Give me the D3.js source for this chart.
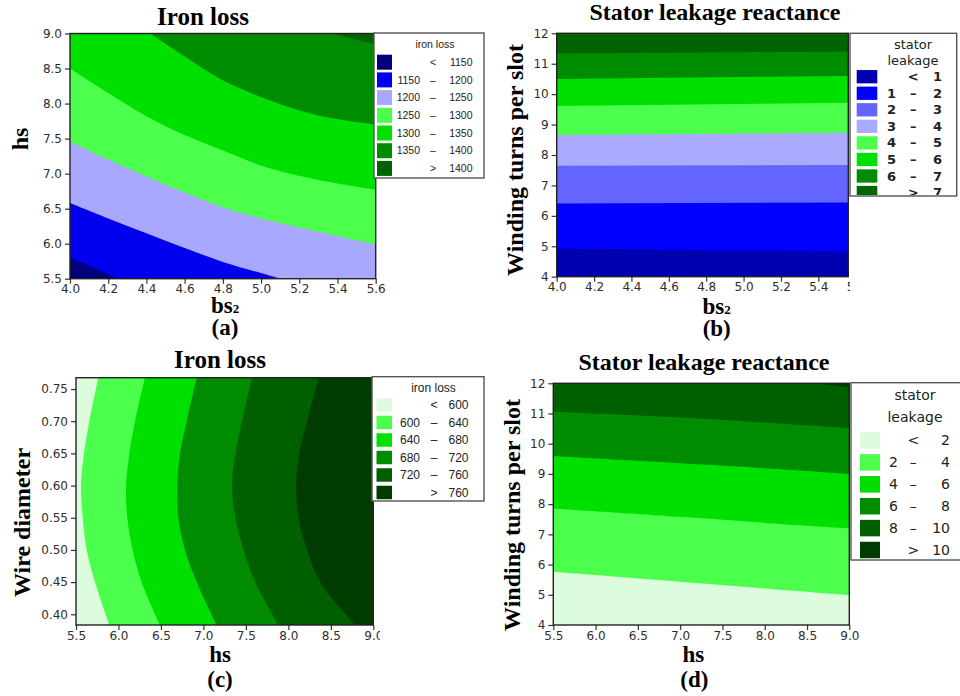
<!DOCTYPE html>
<html>
<head>
<meta charset="utf-8">
<script src="https://d3js.org/d3.v7.min.js"></script>
<style>
  body { margin: 0; background: #fff; }
  .tick text { font-family: "DejaVu Sans", sans-serif; font-size: 12px; fill: #2e2e2e; }
  .tick line { stroke: #333; stroke-width: 1.2; }
  .ttl { font-family: "Liberation Serif", "Times New Roman", serif; font-weight: bold; fill: #000; }
</style>
</head>
<body>
<svg id="fig" width="960" height="696"></svg>
<script>
// ---------- values ----------
// (a) iron loss over bs2 / hs : contour lines as [bs2, hs]
const aBreaks = [1150, 1200, 1250, 1300, 1350, 1400];
const aLines = [
  [[3.9, 5.92], [4.0, 5.8], [4.13, 5.65], [4.25, 5.5], [4.4, 5.32]],
  [[4.0, 6.58], [4.2, 6.36], [4.4, 6.15], [4.6, 5.94], [4.8, 5.74], [5.0, 5.58], [5.1, 5.5], [5.2, 5.43]],
  [[4.0, 7.46], [4.2, 7.2], [4.4, 6.96], [4.6, 6.73], [4.8, 6.52], [5.0, 6.36], [5.3, 6.17], [5.6, 5.99]],
  [[4.0, 8.5], [4.2, 8.15], [4.4, 7.82], [4.6, 7.55], [4.8, 7.33], [5.04, 7.08], [5.3, 6.91], [5.6, 6.77]],
  [[4.0, 9.75], [4.2, 9.4], [4.42, 9.0], [4.6, 8.67], [4.78, 8.36], [5.04, 8.05], [5.3, 7.83], [5.6, 7.7]],
  [[4.0, 10.2], [4.7, 9.5], [5.1, 9.18], [5.37, 9.0], [5.6, 8.84]]
];
const aXTicks = [4.0, 4.2, 4.4, 4.6, 4.8, 5.0, 5.2, 5.4, 5.6];
const aYTicks = [5.5, 6.0, 6.5, 7.0, 7.5, 8.0, 8.5, 9.0];

// (b) stator leakage over bs2 / winding turns
const bBreaks = [1, 2, 3, 4, 5, 6, 7];
const bLines = [
  [[4.0, 4.93], [5.6, 4.82]],
  [[4.0, 6.41], [5.6, 6.44]],
  [[4.0, 7.65], [5.6, 7.67]],
  [[4.0, 8.66], [5.6, 8.73]],
  [[4.0, 9.61], [5.6, 9.72]],
  [[4.0, 10.5], [5.6, 10.6]],
  [[4.0, 11.34], [5.6, 11.4]]
];
const bXTicks = [4.0, 4.2, 4.4, 4.6, 4.8, 5.0, 5.2, 5.4, 5.6];
const bYTicks = [4, 5, 6, 7, 8, 9, 10, 11, 12];

// (c) iron loss over hs / wire diameter : contour lines as [hs, wire]
const cBreaks = [600, 640, 680, 720, 760];
const cWire = [0.768, 0.70, 0.65, 0.60, 0.55, 0.50, 0.45, 0.383];
const cHs = [
  [5.763, 5.657, 5.594, 5.559, 5.579, 5.626, 5.724, 5.893],
  [6.312, 6.195, 6.128, 6.089, 6.104, 6.167, 6.273, 6.489],
  [6.921, 6.803, 6.724, 6.693, 6.705, 6.783, 6.921, 7.156],
  [7.572, 7.454, 7.376, 7.336, 7.376, 7.474, 7.611, 7.886],
  [8.357, 8.22, 8.129, 8.09, 8.121, 8.22, 8.376, 8.788]
];
const cXTicks = [5.5, 6.0, 6.5, 7.0, 7.5, 8.0, 8.5, 9.0];
const cYTicks = [0.40, 0.45, 0.50, 0.55, 0.60, 0.65, 0.70, 0.75];

// (d) stator leakage over hs / winding turns
const dBreaks = [2, 4, 6, 8, 10];
const dLines = [
  [[5.5, 5.76], [7.0, 5.43], [8.0, 5.21], [9.0, 4.99]],
  [[5.5, 7.86], [7.0, 7.58], [8.0, 7.38], [9.0, 7.2]],
  [[5.5, 9.59], [7.0, 9.35], [8.0, 9.19], [9.0, 9.0]],
  [[5.5, 11.06], [7.0, 10.87], [8.0, 10.7], [9.0, 10.51]],
  [[5.5, 13.1], [8.0, 12.22], [8.61, 12.0], [9.0, 11.86]]
];
const dXTicks = [5.5, 6.0, 6.5, 7.0, 7.5, 8.0, 8.5, 9.0];
const dYTicks = [4, 5, 6, 7, 8, 9, 10, 11, 12];

// ---------- colours ----------
const colA = ["#00007c", "#0000ee", "#a8a8ff", "#4dff4d", "#00e000", "#008c00", "#006400"];
const colB = ["#0000b0", "#0000ff", "#6464ff", "#aaaaff", "#4dff4d", "#00e000", "#008c00", "#006400"];
const colC = ["#ddfcdd", "#4dff4d", "#00e000", "#008c00", "#006000", "#003c00"];
const colD = ["#ddfcdd", "#4dff4d", "#00e000", "#008c00", "#006000", "#003c00"];

const svg = d3.select("#fig");
let clipN = 0;
function clipRect(x, y, w, h) {
  const id = "clip" + (clipN++);
  svg.append("clipPath").attr("id", id).append("rect")
    .attr("x", x).attr("y", y).attr("width", w).attr("height", h);
  return `url(#${id})`;
}

function legendRows(breaks) {
  const rows = [["", "<", breaks[0]]];
  for (let i = 1; i < breaks.length; i++) rows.push([breaks[i - 1], "–", breaks[i]]);
  rows.push(["", ">", breaks[breaks.length - 1]]);
  return rows;
}

function drawPanel(p) {
  const x = d3.scaleLinear().domain(p.xDom).range(p.xRange);
  const y = d3.scaleLinear().domain(p.yDom).range([p.b, p.t]);
  const g = svg.append("g");

  const fills = g.append("g").attr("clip-path", clipRect(p.l, p.t, p.r - p.l, p.b - p.t));
  fills.append("rect")
    .attr("x", p.l).attr("y", p.t).attr("width", p.r - p.l).attr("height", p.b - p.t)
    .attr("fill", p.colors[p.colors.length - 1]);

  const curve = d3.curveCatmullRom.alpha(0.5);
  let area;
  if (p.orient === "y") {
    area = d3.area().x(d => x(d[0])).y0(p.b + 10).y1(d => y(d[1])).curve(curve);
  } else {
    area = d3.area().y(d => y(d[1])).x0(p.l - 10).x1(d => x(d[0])).curve(curve);
  }
  for (let i = p.lines.length - 1; i >= 0; i--) {
    fills.append("path").attr("d", area(p.lines[i])).attr("fill", p.colors[i]);
  }

  // axes
  const yAxis = d3.axisLeft(y).tickValues(p.yTicks).tickFormat(d3.format(p.yFmt))
    .tickSize(5).tickPadding(3);
  g.append("g").attr("transform", `translate(${p.l},0)`).call(yAxis)
    .call(s => s.select(".domain").remove());

  const xOuter = g.append("g");
  if (p.xClip) xOuter.attr("clip-path", clipRect(0, 0, p.xClip[0], p.xClip[1]));
  const xAxis = d3.axisBottom(x).tickValues(p.xTicks).tickFormat(d3.format(p.xFmt))
    .tickSize(5).tickPadding(1);
  xOuter.append("g").attr("transform", `translate(0,${p.b})`).call(xAxis)
    .call(s => s.select(".domain").remove());

  g.append("rect")
    .attr("x", p.l).attr("y", p.t).attr("width", p.r - p.l).attr("height", p.b - p.t)
    .attr("fill", "none").attr("stroke", "#222").attr("stroke-width", 1.4);

  // legend
  const L = p.legend;
  const lg = g.append("g");
  lg.append("rect").attr("x", L.x).attr("y", L.y).attr("width", L.w).attr("height", L.h)
    .attr("fill", "#fff").attr("stroke", "#555").attr("stroke-width", 1.4);
  const inner = lg.append("g").attr("clip-path", clipRect(L.x, L.y, L.w, L.h - 1))
    .style("font-family", L.font).style("font-size", L.size + "px")
    .style("font-weight", L.weight || "normal").attr("fill", "#222");
  L.title.forEach((t, i) => {
    inner.append("text").attr("x", L.titleX).attr("y", L.titleY[i]).attr("dy", "0.35em")
      .attr("text-anchor", "middle").style("font-weight", "normal").text(t);
  });
  const rows = legendRows(p.breaks);
  rows.forEach((r, i) => {
    const cy = L.rowY0 + i * L.rowDy;
    inner.append("rect").attr("x", L.swX).attr("y", cy - L.swH / 2)
      .attr("width", L.swW).attr("height", L.swH).attr("fill", p.colors[i]);
    inner.append("text").attr("x", L.leftX).attr("y", cy).attr("dy", "0.35em")
      .attr("text-anchor", "end").text(r[0]);
    inner.append("text").attr("x", L.midX).attr("y", cy).attr("dy", "0.35em")
      .attr("text-anchor", "middle").text(r[1]);
    inner.append("text").attr("x", L.rightX).attr("y", cy).attr("dy", "0.35em")
      .attr("text-anchor", "end").text(r[2]);
  });

  // titles and labels
  g.append("text").attr("class", "ttl").attr("x", p.title[1]).attr("y", p.title[2])
    .attr("text-anchor", "middle").style("font-size", p.title[3] + "px").text(p.title[0]);
  g.append("text").attr("class", "ttl")
    .attr("transform", `translate(${p.ylab[1]},${p.ylab[2]}) rotate(-90)`)
    .attr("text-anchor", "middle").style("font-size", "24px").text(p.ylab[0]);
  const xl = g.append("text").attr("class", "ttl").attr("x", p.xlab[1]).attr("y", p.xlab[2])
    .attr("text-anchor", "middle").style("font-size", "23px");
  if (p.xlab[0] === "bs2") {
    xl.append("tspan").text("bs");
    xl.append("tspan").style("font-size", "13px").text("2");
  } else {
    xl.text(p.xlab[0]);
  }
  g.append("text").attr("class", "ttl").attr("x", p.tag[1]).attr("y", p.tag[2])
    .attr("text-anchor", "middle").style("font-size", "23px").text(p.tag[0]);
}

drawPanel({
  orient: "y", lines: aLines, breaks: aBreaks, colors: colA,
  l: 70, r: 375.7, t: 33.5, b: 278.7, xDom: [4.0, 5.6], xRange: [70, 375.7], yDom: [5.5, 9.0],
  xTicks: aXTicks, yTicks: aYTicks, xFmt: ".1f", yFmt: ".1f",
  title: ["Iron loss", 203, 25, 25], ylab: ["hs", 28, 139], xlab: ["bs2", 225, 312.5], tag: ["(a)", 225, 335],
  legend: { x: 374, y: 33, w: 110, h: 145, font: "Liberation Sans", size: 10.5,
    title: ["iron loss"], titleX: 435, titleY: [44],
    rowY0: 62.2, rowDy: 17.7, swX: 377, swW: 15, swH: 15, leftX: 420, midX: 433, rightX: 472.5 }
});

drawPanel({
  orient: "y", lines: bLines, breaks: bBreaks, colors: colB,
  l: 556.7, r: 848.3, t: 33.3, b: 276.7, xDom: [4.0, 5.6], xRange: [556.7, 855.7], yDom: [4, 12],
  xTicks: bXTicks, yTicks: bYTicks, xFmt: ".1f", yFmt: "d", xClip: [850, 292],
  title: ["Stator leakage reactance", 715, 20, 24], ylab: ["Winding turns per slot", 523, 160],
  xlab: ["bs2", 716.7, 313.5], tag: ["(b)", 716.7, 336],
  legend: { x: 850, y: 33.3, w: 106.7, h: 162.7, font: "DejaVu Sans", size: 13, weight: "bold",
    title: ["stator", "leakage"], titleX: 913, titleY: [44, 60.7],
    rowY0: 76.7, rowDy: 16.55, swX: 856.7, swW: 20.6, swH: 13.3, leftX: 896, midX: 913.3, rightX: 942 }
});

drawPanel({
  orient: "x", lines: cHs.map(row => row.map((v, i) => [v, cWire[i]])), breaks: cBreaks, colors: colC,
  l: 76, r: 373.3, t: 377.7, b: 625, xDom: [5.5, 9.0], xRange: [76, 373.3], yDom: [0.3834, 0.7676],
  xTicks: cXTicks, yTicks: cYTicks, xFmt: ".1f", yFmt: ".2f", xClip: [380, 642],
  title: ["Iron loss", 220, 368, 25], ylab: ["Wire diameter", 30, 522.5],
  xlab: ["hs", 220, 662], tag: ["(c)", 220, 687],
  legend: { x: 372, y: 376.7, w: 112, h: 124.3, font: "Liberation Sans", size: 12,
    title: ["iron loss"], titleX: 433.5, titleY: [387.7],
    rowY0: 405, rowDy: 17.5, swX: 376.5, swW: 15.5, swH: 13.5, leftX: 420, midX: 434, rightX: 468.5 }
});

drawPanel({
  orient: "y", lines: dLines, breaks: dBreaks, colors: colD,
  l: 553.3, r: 849.3, t: 383.3, b: 625, xDom: [5.5, 9.0], xRange: [553.3, 849.3], yDom: [4, 12],
  xTicks: dXTicks, yTicks: dYTicks, xFmt: ".1f", yFmt: "d",
  title: ["Stator leakage reactance", 704, 370, 24], ylab: ["Winding turns per slot", 520, 515],
  xlab: ["hs", 693.3, 662], tag: ["(d)", 694.3, 687],
  legend: { x: 851, y: 382.7, w: 115, h: 177.3, font: "DejaVu Sans", size: 14,
    title: ["stator", "leakage"], titleX: 915, titleY: [395, 416.7],
    rowY0: 440.5, rowDy: 21.9, swX: 860, swW: 20, swH: 16.5, leftX: 897.8, midX: 913.3, rightX: 950 }
});
</script>
</body>
</html>
